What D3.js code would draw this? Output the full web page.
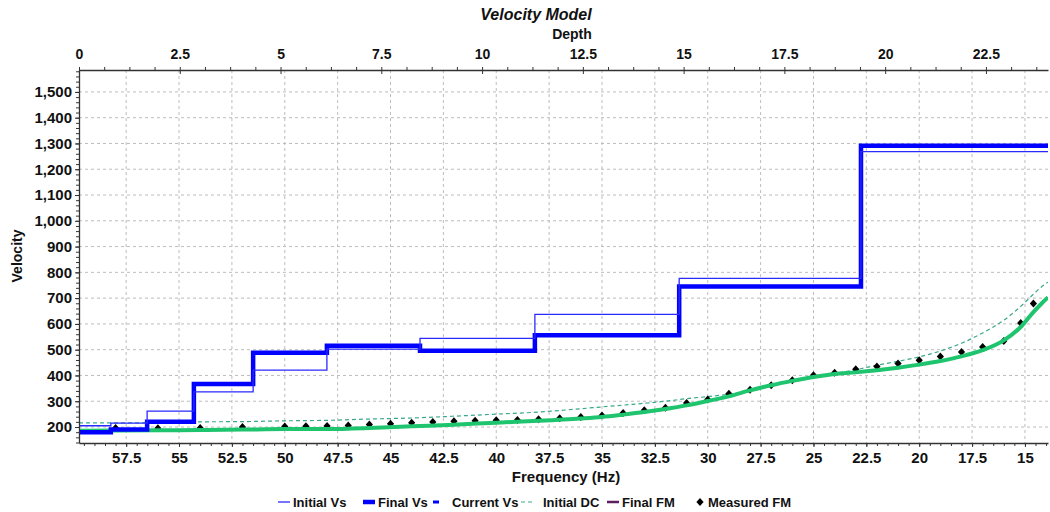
<!DOCTYPE html>
<html>
<head>
<meta charset="utf-8">
<script src="https://cdn.jsdelivr.net/npm/d3@7"></script>
<style>
  html, body { margin: 0; padding: 0; background: #fff; }
  svg { display: block; font-family: "Liberation Sans", Arial, sans-serif; }
  .tick text { font-weight: bold; fill: #111; }
</style>
</head>
<body>
<svg id="chart" width="1050" height="512"></svg>
<script>
// Layer model (top depth of each layer, shear-wave velocity)
const layerTops = [0, 0.79, 1.69, 2.85, 4.32, 6.15, 8.46, 11.31, 14.89, 19.4];
const initialVs = [205, 215, 262, 336, 421, 502, 544, 637, 777, 1268];
const finalVs   = [180, 190, 220, 367, 488, 515, 496, 556, 745, 1291];
const maxDepth = 24.04;

// Measured dispersion points (frequency, phase velocity)
const measuredFreq = [58, 56, 54, 52, 50, 49, 48, 47, 46, 45, 44, 43, 42, 41, 40, 39, 38, 37, 36, 35, 34, 33, 32, 31, 30, 29, 28, 27, 26, 25, 24, 23, 22, 21, 20, 19, 18, 17, 16, 15.2, 14.6];
const measuredFM   = [196, 195, 196, 200, 202, 203, 204, 206, 210, 213, 217, 219, 222, 224, 226, 227, 230, 234, 239, 245, 254, 265, 275, 293, 307, 329, 345, 362, 381, 401, 411, 424, 435, 446, 459, 474, 491, 510, 534, 604, 679];

// Theoretical dispersion curves
const curveFreq = [59.73, 56, 54, 52, 50, 48, 46, 44, 42, 40, 38, 36, 35, 34, 33, 32, 31, 30, 29, 28, 27, 26, 25, 24, 23, 22, 21, 20, 19, 18, 17, 16, 15.2, 14.6, 14.2, 13.91];
const finalDC   = [186, 187, 188, 190, 192, 192, 196, 203, 209, 217, 224, 233, 239, 248, 258, 270, 284, 301, 319, 342, 362, 379, 394, 406, 412, 420, 430, 442, 456, 474, 498, 536, 588, 646, 680, 703];
const initialDC = [216, 217, 220, 221, 224, 226, 231, 235, 242, 250, 258, 271, 278, 285, 292, 300, 310, 318, 327, 340, 358, 376, 392, 408, 422, 440, 455, 472, 495, 525, 565, 614, 668, 715, 745, 762];

// Axis ticks
const freqTicks  = [57.5, 55, 52.5, 50, 47.5, 45, 42.5, 40, 37.5, 35, 32.5, 30, 27.5, 25, 22.5, 20, 17.5, 15];
const depthTicks = [0, 2.5, 5, 7.5, 10, 12.5, 15, 17.5, 20, 22.5];
const velTicks   = [200, 300, 400, 500, 600, 700, 800, 900, 1000, 1100, 1200, 1300, 1400, 1500];

const legendItems = [
  { label: "Initial Vs",  kind: "line",    color: "#2a2aff", width: 1.3, x: 278 },
  { label: "Final Vs",    kind: "line",    color: "#0000ff", width: 4.5, x: 363 },
  { label: "Current Vs",  kind: "short",   color: "#0000ff", width: 3,   x: 433 },
  { label: "Initial DC",  kind: "dash",    color: "#3aa88a", width: 1.2, x: 521 },
  { label: "Final FM",    kind: "line",    color: "#5a1f5e", width: 2.5, x: 607 },
  { label: "Measured FM", kind: "diamond", color: "#000",    width: 0,   x: 697 }
];

const L = 79, R = 1048, T = 70, B = 443;
const svg = d3.select("#chart");

const xFreq  = d3.scaleLinear().domain([59.73, 13.91]).range([L, R]);
const xDepth = d3.scaleLinear().domain([0, maxDepth]).range([L, R]);
const yVel   = d3.scaleLinear().domain([138, 1585]).range([B, T]);

const diamond = "M0,-4L3.6,0L0,4L-3.6,0Z";

// Dashed grid
const grid = svg.append("g");
grid.selectAll("line.v").data(freqTicks).join("line")
  .attr("x1", d => xFreq(d)).attr("x2", d => xFreq(d))
  .attr("y1", T).attr("y2", B)
  .attr("stroke", "#bdbdbd").attr("stroke-width", 1).attr("stroke-dasharray", "3,3");
grid.selectAll("line.h").data(velTicks).join("line")
  .attr("x1", L).attr("x2", R)
  .attr("y1", d => yVel(d)).attr("y2", d => yVel(d))
  .attr("stroke", "#bdbdbd").attr("stroke-width", 1).attr("stroke-dasharray", "3,3");

const plot = svg.append("g");
plot.append("clipPath").attr("id", "clip")
  .append("rect").attr("x", L).attr("y", T).attr("width", R - L).attr("height", B - T);
const g = plot.append("g").attr("clip-path", "url(#clip)");

// Dispersion curves and measured points
const dcLine = vals => d3.line()
  .x((d, i) => xFreq(curveFreq[i]))
  .y((d, i) => yVel(vals[i]))
  .curve(d3.curveMonotoneX)(vals);

g.append("path").attr("d", dcLine(initialDC))
  .attr("fill", "none").attr("stroke", "#3aa88a").attr("stroke-width", 1.2)
  .attr("stroke-dasharray", "4,3");

g.selectAll("path.meas").data(measuredFM).join("path")
  .attr("class", "meas")
  .attr("transform", (d, i) => `translate(${xFreq(measuredFreq[i])},${yVel(d)})`)
  .attr("d", diamond)
  .attr("fill", "#000");

g.append("path").attr("d", dcLine(finalDC))
  .attr("fill", "none").attr("stroke", "#1fc46e").attr("stroke-width", 4)
  .attr("stroke-linejoin", "round");

// Layered velocity profiles against depth
const stepLine = vals => {
  const pts = layerTops.map((d, i) => [xDepth(d), yVel(vals[i])]);
  pts.push([xDepth(maxDepth), yVel(vals[vals.length - 1])]);
  return d3.line().curve(d3.curveStepAfter)(pts);
};
g.append("path").attr("d", stepLine(finalVs))
  .attr("fill", "none").attr("stroke", "#0000ff").attr("stroke-width", 4.5)
  .attr("stroke-linejoin", "miter");
g.append("path").attr("d", stepLine(initialVs))
  .attr("fill", "none").attr("stroke", "#2a2aff").attr("stroke-width", 1.3);

// Axes
const axisColor = "#333";
function styleAxis(sel, size) {
  sel.select(".domain").attr("stroke", axisColor).attr("stroke-width", 1.3);
  sel.selectAll(".tick line").attr("stroke", axisColor);
  sel.selectAll(".tick text").attr("font-size", size);
}

// minor ticks
const minorDepth = d3.range(0, maxDepth, 0.625);
const minorFreq = d3.range(59.5, 13.9, -0.5);
const minorVel = d3.range(140, 1585, 20);

svg.append("g").attr("transform", `translate(0,${T})`)
  .call(d3.axisTop(xDepth).tickValues(minorDepth).tickSize(3).tickFormat(""))
  .call(s => { s.select(".domain").remove(); s.selectAll("line").attr("stroke", axisColor); });
svg.append("g").attr("transform", `translate(0,${B})`)
  .call(d3.axisBottom(xFreq).tickValues(minorFreq).tickSize(3).tickFormat(""))
  .call(s => { s.select(".domain").remove(); s.selectAll("line").attr("stroke", axisColor); });
svg.append("g").attr("transform", `translate(${L},0)`)
  .call(d3.axisLeft(yVel).tickValues(minorVel).tickSize(3).tickFormat(""))
  .call(s => { s.select(".domain").remove(); s.selectAll("line").attr("stroke", axisColor); });

svg.append("g").attr("transform", `translate(0,${T})`)
  .call(d3.axisTop(xDepth).tickValues(depthTicks).tickSize(-4).tickPadding(11)
    .tickSizeOuter(0).tickFormat(d3.format("")))
  .call(s => styleAxis(s, 14));

svg.append("g").attr("transform", `translate(0,${B})`)
  .call(d3.axisBottom(xFreq).tickValues(freqTicks).tickSize(4).tickPadding(5)
    .tickSizeOuter(0).tickFormat(d3.format("")))
  .call(s => styleAxis(s, 15));

svg.append("g").attr("transform", `translate(${L},0)`)
  .call(d3.axisLeft(yVel).tickValues(velTicks).tickSize(4).tickPadding(3)
    .tickSizeOuter(0).tickFormat(d3.format(",")))
  .call(s => styleAxis(s, 15));

// Titles
svg.append("text").attr("x", 536).attr("y", 20).attr("text-anchor", "middle")
  .attr("font-size", 16).attr("font-weight", "bold").attr("font-style", "italic")
  .attr("fill", "#111").text("Velocity Model");
svg.append("text").attr("x", 572).attr("y", 39).attr("text-anchor", "middle")
  .attr("font-size", 14).attr("font-weight", "bold").attr("fill", "#111").text("Depth");
svg.append("text").attr("x", 566).attr("y", 482).attr("text-anchor", "middle")
  .attr("font-size", 15).attr("font-weight", "bold").attr("fill", "#111").text("Frequency (Hz)");
svg.append("text").attr("transform", "translate(22,256) rotate(-90)").attr("text-anchor", "middle")
  .attr("font-size", 14).attr("font-weight", "bold").attr("fill", "#111").text("Velocity");

// Legend
const lg = svg.append("g").attr("transform", "translate(0,502)");
legendItems.forEach(it => {
  const item = lg.append("g").attr("transform", `translate(${it.x},0)`);
  let textX = 15;
  if (it.kind === "line") {
    item.append("line").attr("x1", 0).attr("x2", 12).attr("y1", 0).attr("y2", 0)
      .attr("stroke", it.color).attr("stroke-width", it.width);
  } else if (it.kind === "short") {
    item.append("line").attr("x1", 0).attr("x2", 6).attr("y1", 0).attr("y2", 0)
      .attr("stroke", it.color).attr("stroke-width", it.width);
    textX = 19;
  } else if (it.kind === "dash") {
    item.append("line").attr("x1", 0).attr("x2", 13).attr("y1", 0).attr("y2", 0)
      .attr("stroke", it.color).attr("stroke-width", it.width).attr("stroke-dasharray", "4,3");
    textX = 22;
  } else {
    item.append("path").attr("transform", "translate(3,0)")
      .attr("d", diamond).attr("fill", it.color);
    textX = 11;
  }
  item.append("text").attr("x", textX).attr("y", 5).attr("font-size", 13)
    .attr("font-weight", "bold").attr("fill", "#111").text(it.label);
});
</script>
</body>
</html>
